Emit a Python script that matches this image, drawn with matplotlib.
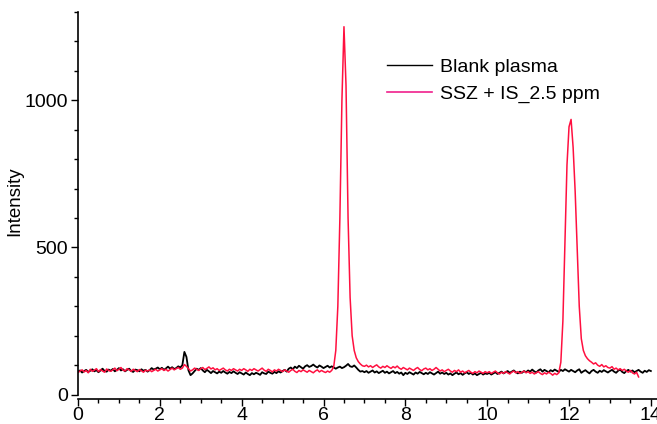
import matplotlib
matplotlib.use("Agg")
import matplotlib.pyplot as plt
from matplotlib.lines import Line2D
from matplotlib.ticker import MultipleLocator
import numpy as np

plt.rcParams['font.family'] = ['Liberation Sans', 'DejaVu Sans']

# retention time step (min) of the sampled traces
dt = 0.05

# blank plasma, 0.00 .. 14.00 min
blank = [
    78, 82, 75, 80, 84, 77, 81, 86, 79, 83, 76, 82, 88, 80, 78, 85, 81, 87, 79, 84,
    90, 82, 86, 79, 84, 88, 80, 77, 85, 83, 79, 86, 81, 84, 78, 83, 90, 85, 88, 92,
    86, 91, 84, 89, 95, 88, 93, 87, 90, 96, 92, 100, 145, 128, 82, 66, 72, 80, 88, 84,
    90, 82, 76, 84, 79, 73, 80, 76, 72, 78, 74, 80, 75, 71, 77, 73, 79, 74, 70, 76,
    72, 68, 75, 70, 66, 73, 69, 74, 71, 67, 76, 72, 70, 78, 74, 71, 77, 73, 79, 75,
    80, 84, 78, 88, 92, 86, 95, 90, 98, 93, 88, 96, 100, 94, 97, 102, 96, 92, 99, 95,
    90, 94, 98, 92, 96, 92, 88, 92, 95, 90, 93, 98, 104, 96, 94, 99, 92, 84, 78, 80,
    76, 80, 74, 78, 82, 75, 79, 73, 77, 81, 74, 78, 72, 76, 80, 73, 77, 71, 75, 66,
    74, 70, 76, 72, 68, 75, 71, 77, 73, 69, 74, 70, 76, 72, 68, 73, 78, 71, 75, 70,
    74, 68, 72, 66, 71, 75, 69, 73, 67, 72, 76, 70, 74, 68, 72, 66, 70, 74, 68, 72,
    70, 74, 68, 72, 76, 70, 74, 78, 72, 76, 80, 74, 78, 82, 76, 72, 78, 74, 80, 76,
    82, 78, 85, 79, 75, 82, 86, 78, 84, 80, 76, 83, 79, 85, 81, 77, 84, 80, 86, 82,
    78, 84, 80, 76, 82, 86, 74, 79, 83, 77, 72, 80, 84, 78, 74, 81, 77, 83, 79, 75,
    80, 84, 78, 74, 81, 85, 77, 73, 80, 84, 78, 82, 76, 80, 84, 78, 74, 81, 77, 83,
    80,
]

# SSZ + IS 2.5 ppm, 0.00 .. 13.70 min
spiked = [
    75, 80, 84, 77, 82, 74, 86, 79, 83, 88, 78, 85, 80, 76, 87, 82, 79, 84, 90, 81,
    86, 92, 83, 80, 88, 84, 79, 86, 82, 78, 85, 81, 76, 83, 80, 84, 78, 82, 86, 80,
    84, 88, 82, 86, 80, 85, 90, 84, 88, 92, 86, 90, 102, 96, 88, 80, 84, 90, 86, 82,
    88, 92, 85, 89, 94, 87, 91, 84, 88, 82, 86, 90, 84, 80, 86, 82, 88, 84, 80, 86,
    82, 88, 84, 79, 86, 82, 88, 84, 80, 85, 90, 83, 79, 86, 82, 77, 84, 80, 86, 82,
    78, 84, 80, 76, 82, 86, 79, 75, 82, 78, 84, 80, 76, 82, 78, 74, 80, 84, 77, 82,
    78, 75, 80, 76, 82, 95, 150, 300, 600, 1000, 1250, 1050, 600, 330, 200, 150, 125, 112, 104, 98,
    96, 100, 94, 98, 92, 97, 101, 94, 90, 96, 92, 98, 93, 89, 95, 91, 97, 90, 86, 92,
    88, 84, 90, 86, 82, 88, 92, 85, 81, 87, 90, 84, 88, 82, 86, 92, 86, 80, 84, 78,
    82, 86, 80, 76, 82, 78, 84, 76, 80, 74, 78, 82, 76, 72, 78, 74, 80, 76, 72, 78,
    74, 78, 72, 76, 80, 74, 70, 76, 72, 78, 74, 70, 76, 80, 74, 78, 72, 76, 80, 74,
    78, 72, 76, 70, 74, 78, 72, 68, 74, 70, 76, 72, 66, 72, 68, 74, 110, 250, 520, 780,
    910, 935, 840, 690, 490, 300, 190, 150, 132, 122, 115, 110, 104, 108, 100, 96, 102, 94, 98, 92,
    90, 95, 86, 90, 84, 88, 82, 86, 80, 76, 82, 74, 70, 76, 60,
]

labels = ['Blank plasma', 'SSZ + IS_2.5 ppm']

t_blank = np.arange(len(blank)) * dt
t_spiked = np.arange(len(spiked)) * dt

fig = plt.figure(figsize=(6.57, 4.24), dpi=100, facecolor='white')
ax = fig.add_axes([78/657, 25/424, 579/657, 387/424])

ax.plot(t_blank, blank, color='black', lw=1.3)
ax.plot(t_spiked, spiked, color='#ff1040', lw=1.1)

ax.set_xlim(0, 14.15)
ax.set_ylim(-15, 1300)

ax.spines['top'].set_visible(False)
ax.spines['right'].set_visible(False)
ax.spines['left'].set_bounds(0, 1300)
ax.spines['left'].set_linewidth(1.2)
ax.spines['bottom'].set_linewidth(1.2)

ax.xaxis.set_major_locator(MultipleLocator(2))
ax.xaxis.set_minor_locator(MultipleLocator(0.5))
ax.yaxis.set_major_locator(MultipleLocator(500))
ax.yaxis.set_minor_locator(MultipleLocator(100))
ax.tick_params(which='major', length=5, width=1.0, labelsize=14, pad=2)
ax.tick_params(axis='x', which='major', pad=0.5)
ax.tick_params(which='minor', length=3, width=1.0)

ax.set_ylabel('Intensity', fontsize=13.5)
ax.yaxis.set_label_coords(-0.095, 0.512)

handles = [Line2D([], [], color='black', lw=1.0),
           Line2D([], [], color='#f0208c', lw=1.2)]
ax.legend(handles, labels, loc='upper left', bbox_to_anchor=(0.517, 0.905),
          frameon=False, fontsize=14, handlelength=2.3, handletextpad=0.4,
          labelspacing=0.45, borderpad=0)

fig.savefig('out.png', dpi=100)
